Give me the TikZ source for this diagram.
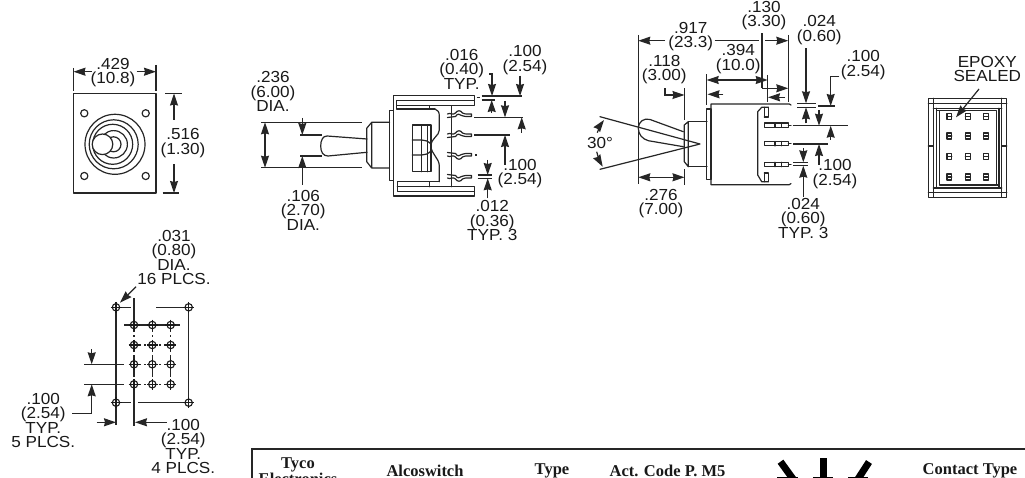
\documentclass[tikz,border=0pt]{standalone}
\usepackage{fontspec}
\setmainfont{Liberation Sans}[FakeStretch=1.07]
\newfontfamily\tablefont{Liberation Serif}
\usetikzlibrary{arrows.meta}
\tikzset{
  part/.style={line width=1.2pt,line join=round,line cap=round,draw=black!85},
  dimln/.style={line width=1.2pt,draw=black!85},
  arw/.style={dimln,-{Stealth[length=12pt,width=8pt,inset=1pt]}},
  arwb/.style={dimln,{Stealth[length=12pt,width=8pt,inset=1pt]}-{Stealth[length=12pt,width=8pt,inset=1pt]}},
  dimtext/.style={inner sep=0pt,align=center,text=black!90,font=\fontsize{16}{14.5}\selectfont},
  tabletext/.style={inner sep=0pt,align=center,text=black!90,font=\tablefont\bfseries\fontsize{16.5}{15.5}\selectfont},
  tablerule/.style={line width=2.4pt,draw=black!85},
  symbar/.style={line width=7pt,draw=black},
  padcross/.style={line width=1.1pt,draw=black!90},
  griddash/.style={line width=1.1pt,draw=black!85,dash pattern=on 7pt off 3pt on 2pt off 3pt},
}
\newcommand{\padmark}[2]{%
  \draw[padcross] (#1,#2) circle (3.7pt);
  \draw[padcross] (#1-5.5,#2) -- (#1+5.5,#2) (#1,#2-5.5) -- (#1,#2+5.5);}
\newcommand{\termwave}[2]{%
  \begin{scope}[shift={(447.5,#1)},yscale=#2]
    \draw[part] (0,1) .. controls (3,-1) and (5,3) .. (8,0) .. controls (10,-3) and (13,-3) .. (15,0) .. controls (17,2) and (18,0) .. (20,1) -- (24,1) -- (24,3.5) -- (20,3.5) .. controls (18,2.5) and (17,4.5) .. (14,2.5) .. controls (12,0.5) and (10,0.5) .. (8,3.5) .. controls (5,5.5) and (3,2.5) .. (0,4.5);
  \end{scope}}
\newcommand{\sidepin}[1]{%
  \draw[part] (764.3,#1-2.2) rectangle (788.3,#1+2.2) (775,#1-2.2) -- (775,#1+2.2) (781.7,#1-2.2) -- (781.7,#1+2.2) (788.3,#1) -- (791,#1);}
\newcommand{\rearpin}[2]{%
  \draw[part] (#1-2.4,#2-3) rectangle (#1+2.4,#2+3) (#1-2.4,#2) -- (#1+2.4,#2);}
\begin{document}
\begin{tikzpicture}[x=1pt,y=-1pt]
\clip (0,0) rectangle (1025,478);
\fill[white] (0,0) rectangle (1025,478);

%% ---- front view
\draw[part] (73.5,93.5) rectangle (156,193);
\foreach \hx/\hy in {84.3/113.3,145.7/113.3,84.3/176,145.7/176}
  \draw[part] (\hx,\hy) circle (3.6pt);
\draw[part] (115,144.3) circle (30pt);
\draw[part] (113.7,144.3) circle (24.5pt);
\draw[part] (112.7,144.3) circle (20pt);
\draw[part] (113.7,144.3) circle (13.7pt);
\draw[part,fill=white] (113.5,144.3) circle (7.5pt);
\draw[part,fill=white] (102.5,144.3) circle (10.3pt);
\draw[dimln] (73.5,68) -- (73.5,91) (156,65) -- (156,91);
\draw[arw] (92,71.7) -- (73.5,71.7);
\draw[arw] (136.7,71.7) -- (156,71.7);
\node[dimtext] (t429) at (113,72.5) {.429\\(10.8)};
\draw[dimln] (165,93.5) -- (181.7,93.5) (162.7,193) -- (179,193);
\draw[arw] (174,120) -- (174,93.5);
\draw[arw] (174,164.3) -- (174,193);
\node[dimtext] (t516) at (183,143) {.516\\(1.30)};

%% ---- side view (centre)
\draw[dimln] (261,122.3) -- (361.7,122.3) (261,167.7) -- (361.7,167.7);
\draw[arwb] (265,122.3) -- (265,167.7);
\node[dimtext] (t236) at (273,91.7) {.236\\(6.00)\\DIA.};
\draw[dimln] (300,135) -- (321.7,135) (300,156) -- (321.7,156);
\draw[arw] (302.3,118) -- (302.3,135);
\draw[arw] (302.3,185) -- (302.3,156);
\node[dimtext] (t106) at (303.3,210) {.106\\(2.70)\\DIA.};
\draw[part] (367,139) -- (327,136) .. controls (323,136) and (320.7,140) .. (320.7,146) .. controls (320.7,152) and (323,156) .. (328,156) -- (367,152.3);
\draw[part] (366.7,161.7) -- (366.7,128.3) -- (371.7,122.3) -- (389.5,122.3) (366.7,161.7) -- (371.7,168) -- (389.5,168) (371.7,122.3) -- (371.7,168);
\draw[part] (389.3,110.5) rectangle (393.5,180.5);
\draw[part] (393.7,110.5) -- (393.7,95.7) -- (474.3,95.7) -- (474.3,100.7) -- (396.7,100.7) -- (396.7,109) -- (435,109);
\draw[part] (396.7,100.7) -- (396.7,105.7) -- (474.3,105.7) -- (474.3,100.7);
\draw[part] (393.7,180.5) -- (393.7,196) -- (474.3,196) -- (474.3,191.7) -- (397.3,191.7) -- (397.3,181.7) -- (439.3,181.7);
\draw[part] (397.3,186.7) -- (474.3,186.7) -- (474.3,191.7);
\draw[part] (451.7,105.7) -- (451.7,186.7);
\draw[part] (429.3,105.7) -- (429.3,109) (429.3,181.7) -- (429.3,186.7);
\draw[part] (435,109) .. controls (438,110) and (439.3,112) .. (439.3,116) -- (439.3,130) .. controls (439.3,136) and (431,138) .. (431,146) .. controls (431,154) and (439.3,158) .. (439.3,166) -- (439.3,181.7);
\draw[part] (412.3,125) rectangle (431,171.7);
\draw[part] (421.7,125) -- (421.7,171.7) (427.7,125) -- (427.7,171.7);
\draw[part] (412.3,140) -- (421.7,140) .. controls (425,140) and (428,141) .. (431,144);
\draw[part] (412.3,155) -- (421.7,155) .. controls (425,155) and (428,154) .. (431,151);
\termwave{113}{1}
\termwave{133}{1}
\termwave{157}{-1}
\termwave{179}{-1}
\draw[dimln] (476.7,97.3) -- (480,97.3) (475,155) -- (476.5,155);
\draw[dimln] (481.7,96) -- (521.7,96) (481.7,100) -- (495,100);
\draw[dimln] (474.3,117.3) -- (523.3,117.3) (474.3,135) -- (510,135);
\node[dimtext] (t016) at (461.7,69) {.016\\(0.40)\\TYP.};
\draw[arw] (489.3,74) -- (492,74) -- (492,96);
\draw[arw] (491.7,113) -- (491.7,100);
\node[dimtext] (t100a) at (525,60) {.100\\(2.54)};
\draw[arw] (520,75.7) -- (520,96);
\draw[arw] (505,101) -- (505,117.3);
\draw[arw] (521.7,133) -- (521.7,117.3);
\draw[arw] (505,165) -- (505,135);
\node[dimtext] (t100b) at (520,173.7) {.100\\(2.54)};
\draw[arw] (487.7,160) -- (487.7,175);
\draw[dimln] (477.7,175) -- (491.7,175) (477.7,178.3) -- (491.7,178.3);
\draw[arw] (487.7,198.3) -- (487.7,178.3);
\node[dimtext] (t012) at (492.3,220.7) {.012\\(0.36)\\TYP. 3};

%% ---- side view (right)
\draw[part] (600,116.7) -- (700,144) -- (600,169.3);
\draw[arw] (597.3,132.7) .. controls (599,128) and (601,124) .. (604,120);
\draw[arw] (596.7,151.7) .. controls (598,157) and (600,162) .. (602.7,166.7);
\node[dimtext] (t30) at (600,143.3) {30°};
\draw[part] (683.3,131.7) -- (650,119.5) .. controls (644,117.5) and (638.3,122) .. (638.3,128) .. controls (638.3,134) and (642,139) .. (648.3,140.7) -- (683.3,146.7);
\draw[part] (688.3,121.7) -- (707,121.7) (688.3,166.7) -- (707,166.7);
\draw[part] (688.3,121.7) -- (684.3,125) -- (684.3,161.7) -- (688.3,166.7) -- cycle;
\draw[part] (706.7,109) rectangle (711,179.3);
\draw[part] (711,179.3) -- (711,184.7) -- (789.3,184.7) -- (791,183.5);
\draw[part] (711,109) -- (711,104) -- (789.3,104) -- (791,105);
\draw[part] (768.3,107.3) -- (761.7,107.3) -- (757.7,111.7) -- (757.7,175) -- (761.7,181.7) -- (768.3,181.7);
\draw[part] (764.3,107.3) -- (764.3,117) (768.3,107.3) -- (768.3,117) -- (764.3,117);
\draw[part] (764.3,173) -- (764.3,181.7) (768.3,173) -- (768.3,181.7) (764.3,173) -- (768.3,173);
\sidepin{125.2}
\sidepin{143.7}
\sidepin{164.5}
\draw[dimln] (638.3,35) -- (638.3,184);
\draw[arw] (665,40.7) -- (638.3,40.7);
\node[dimtext] (t917) at (690.7,36.7) {.917\\(23.3)};
\draw[dimln] (714.5,40.3) -- (759.3,40.3);
\draw[dimln] (684.5,88.3) -- (684.5,120) (684.5,169.3) -- (684.5,185);
\draw[arwb] (638.3,177.3) -- (684.5,177.3);
\node[dimtext] (t276) at (661,203.5) {.276\\(7.00)};
\node[dimtext] (t118) at (664.3,69.5) {.118\\(3.00)};
\draw[arw] (665,88.3) -- (665,95) -- (684.5,95);
\node[dimtext] (t130) at (764,15.8) {.130\\(3.30)};
\draw[dimln] (762,33.3) -- (762,88.3);
\draw[arw] (762,88.3) -- (788.3,88.3);
\draw[arw] (765,40.7) -- (788.3,40.7);
\draw[dimln] (788.3,35) -- (788.3,101.7) (767.7,75) -- (767.7,101.7);
\draw[arw] (785,97.3) -- (768,97.3);
\node[dimtext] (t394) at (738.3,59.2) {.394\\(10.0)};
\draw[dimln] (706.7,74.3) -- (706.7,105);
\draw[arwb] (706.7,80) -- (767.7,80);
\draw[arw] (723.3,94.3) -- (707.5,94.3);
\node[dimtext] (t024a) at (819.3,30.2) {.024\\(0.60)};
\draw[arw] (806,48.3) -- (806,103.3);
\draw[dimln] (797.3,103.3) -- (816,103.3) (797.3,107.3) -- (816,107.3);
\draw[arw] (806,123.3) -- (806,107.3);
\node[dimtext] (t100c) at (863.3,65) {.100\\(2.54)};
\draw[arw] (839.3,76.7) -- (830.7,76.7) -- (830.7,106);
\draw[dimln] (818.3,106) -- (835,106);
\draw[arw] (819,110) -- (819,125.7);
\draw[dimln] (792.7,125.7) -- (848.3,125.7) (793.3,144) -- (828.3,144);
\draw[arw] (830.7,140) -- (830.7,125.7);
\draw[arw] (819,165) -- (819,144);
\node[dimtext] (t100d) at (835,174.2) {.100\\(2.54)};
\draw[arw] (803.3,148.3) -- (803.3,162.3);
\draw[dimln] (793.3,162.3) -- (808.3,162.3) (793.3,165.7) -- (808.3,165.7);
\draw[arw] (803.3,196.7) -- (803.3,165.7);
\node[dimtext] (t024b) at (803.3,218.3) {.024\\(0.60)\\TYP. 3};

%% ---- rear view
\draw[part] (928.3,98.3) rectangle (1006.7,197.3);
\draw[part] (933.3,98.3) -- (933.3,197.3) (1001.7,98.3) -- (1001.7,197.3);
\draw[part] (928.3,103.3) -- (1006.7,103.3) (928.3,192.7) -- (1006.7,192.7);
\draw[part] (933.3,108.3) -- (1001.7,108.3) (933.3,188) -- (1001.7,188);
\draw[part] (936.5,108.3) -- (936.5,188) (999,108.3) -- (999,188);
\draw[part] (928.3,146) -- (933.3,146) (1001.7,146) -- (1006.7,146);
\draw[part] (939.3,110.7) rectangle (996.7,185);
\draw[part] (936.5,110.7) -- (939.3,110.7) (996.7,185) -- (999,185);
\foreach \py in {116.7,136,156.7,177}
  \foreach \px in {949.3,967.7,986}
    {\rearpin{\px}{\py}}
\node[dimtext] (tepoxy) at (987.3,68.8) {EPOXY\\SEALED};
\draw[arw] (979,89) -- (956,117.3);

%% ---- footprint
\draw[griddash] (134,325) -- (170.7,325);
\draw[griddash] (134,345) -- (170.7,345);
\draw[griddash] (134,364.3) -- (170.7,364.3);
\draw[griddash] (134,384.3) -- (170.7,384.3);
\draw[griddash] (134,325) -- (134,390);
\draw[griddash] (152.3,325) -- (152.3,384.3);
\draw[griddash] (170.7,325) -- (170.7,384.3);
\draw[dimln] (124,325) -- (180,325);
\draw[dimln] (134,298.3) -- (134,320) (134,390) -- (134,426);
\draw[dimln] (116,313.3) -- (116,396.7) (116,408) -- (116,425);
\draw[dimln] (188.7,313.3) -- (188.7,396.7);
\draw[dimln] (116,307.3) -- (131,307.3) (156,307.3) -- (188.7,307.3);
\draw[dimln] (116,402.7) -- (131,402.7) (138.3,402.7) -- (188.7,402.7);
\draw[dimln] (84.3,364.3) -- (124.3,364.3) (84.3,384.3) -- (124.3,384.3);
\foreach \py in {325,345,364.3,384.3}
  \foreach \px in {134,152.3,170.7}
    {\padmark{\px}{\py}}
\padmark{116}{307.3}
\padmark{188.7}{307.3}
\padmark{116}{402.7}
\padmark{188.7}{402.7}
\node[dimtext] (t031) at (174,257.5) {.031\\(0.80)\\DIA.\\16 PLCS.};
\draw[arw] (136,286.7) -- (120,302.7);
\draw[arw] (91.7,349) -- (91.7,364.3);
\draw[arw] (72.3,413.3) -- (91.7,413.3) -- (91.7,384.3);
\draw[arw] (96.7,422.3) -- (116,422.3);
\draw[arw] (166.7,422.3) -- (135,422.3);
\node[dimtext] (t100e) at (43.3,420.3) {.100\\(2.54)\\TYP.\\5 PLCS.};
\node[dimtext] (t100f) at (183.3,446.3) {.100\\(2.54)\\TYP.\\4 PLCS.};

%% ---- table
\draw[tablerule] (251.7,480) -- (251.7,449) -- (1026,449);
\node[tabletext] (cTyco) at (298,471) {Tyco\\Electronics};
\node[tabletext] (cAlco) at (425,471) {Alcoswitch};
\node[tabletext] (cType) at (552,471) {Type};
\node[tabletext] (cAct) at (667.5,471) {Act. Code P. M5};
\node[tabletext] (cCont) at (970,471) {Contact Type};
\draw[symbar] (780.5,461.7) -- (793,479);
\draw[symbar] (823.7,458) -- (823.7,479);
\draw[symbar] (869,462) -- (858,479);
\draw[line width=1pt] (777,477.7) -- (798,477.7) (813,477.7) -- (833,477.7) (848,477.7) -- (868,477.7);
\end{tikzpicture}
\end{document}
